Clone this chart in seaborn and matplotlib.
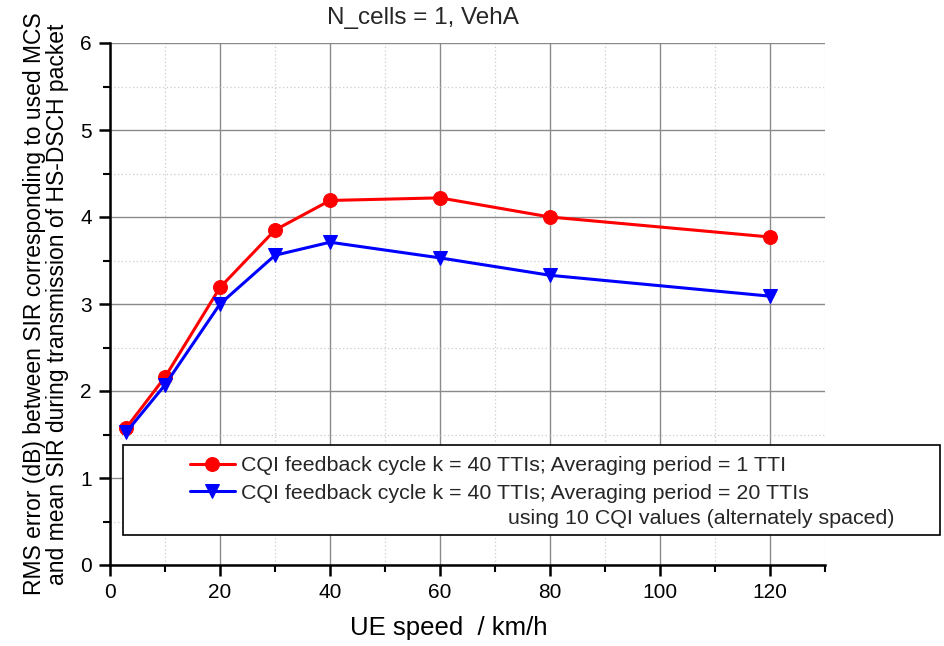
import matplotlib
matplotlib.use("Agg")
import matplotlib.pyplot as plt
import matplotlib.patches as mpatches
from matplotlib.ticker import MultipleLocator
import seaborn as sns
import pandas as pd

speed = [3, 10, 20, 30, 40, 60, 80, 120]
rms_avg1 = [1.58, 2.16, 3.19, 3.85, 4.19, 4.22, 4.00, 3.77]
rms_avg20 = [1.53, 2.07, 3.00, 3.56, 3.71, 3.53, 3.33, 3.09]
label1 = "CQI feedback cycle k = 40 TTIs; Averaging period = 1 TTI"
label2 = "CQI feedback cycle k = 40 TTIs; Averaging period = 20 TTIs"
label3 = "using 10 CQI values (alternately spaced)"
title = "N_cells = 1, VehA"
xlabel = "UE speed  / km/h"
ylabel = "RMS error (dB) between SIR corresponding to used MCS\nand mean SIR during transmission of HS-DSCH packet"

sns.set_style("ticks")
plt.rcParams['font.family'] = ['Liberation Sans', 'DejaVu Sans']

fig = plt.figure(figsize=(9.45, 6.46), dpi=100)
ax = fig.add_axes([110/945, 1-565/646, (825-110)/945, (565-43)/646])

df1 = pd.DataFrame({"x": speed, "y": rms_avg1})
df2 = pd.DataFrame({"x": speed, "y": rms_avg20})
sns.lineplot(data=df1, x="x", y="y", ax=ax, color="#ff0000", lw=2.2,
             marker="o", markersize=10, markeredgecolor="#ff0000", label=label1, zorder=3)
sns.lineplot(data=df2, x="x", y="y", ax=ax, color="#0000ff", lw=2.2,
             marker="v", markersize=10, markeredgecolor="#0000ff", label=label2, zorder=4)
handles, labels = ax.get_legend_handles_labels()
ax.get_legend().remove()

ax.set_xlim(0, 130)
ax.set_ylim(0, 6)
ax.xaxis.set_major_locator(MultipleLocator(20))
ax.xaxis.set_minor_locator(MultipleLocator(10))
ax.yaxis.set_major_locator(MultipleLocator(1))
ax.yaxis.set_minor_locator(MultipleLocator(0.5))
ax.grid(which="major", color="#8a8a8a", lw=1.0, ls="-")
ax.grid(which="minor", color="#cccccc", lw=0.9, ls=(0, (1, 2)))
ax.set_axisbelow(True)
for s in ["top", "right"]:
    ax.spines[s].set_visible(False)
for s in ["left", "bottom"]:
    ax.spines[s].set_linewidth(1.8)
    ax.spines[s].set_color("black")
ax.tick_params(which="major", direction="out", length=8, width=1.8, labelsize=15,
               pad=5, colors="black")
ax.tick_params(which="minor", direction="out", length=5, width=1.5, colors="black")

ax.set_xlabel(xlabel, fontsize=18.5, color="black")
ax.xaxis.set_label_coords((449-110)/(825-110), -(628-565)/(565-43))
ax.xaxis.label.set_va("center")
ax.set_ylabel(ylabel, fontsize=16.5, labelpad=8, linespacing=1.0, color="black")
fig.text(423/945, 1-18/646, title, fontsize=17.5, ha="center", va="center")

# legend frame
rect = mpatches.Rectangle((123/945, 1-535/646), (940-123)/945, (535-445)/646,
                          transform=fig.transFigure, facecolor="white",
                          edgecolor="black", lw=1.2, zorder=4)
fig.patches.append(rect)
leg = fig.legend(handles, labels, loc="upper left", bbox_to_anchor=(190/945, 1-456/646),
                 frameon=False, fontsize=15.4,
                 handlelength=2.1, handletextpad=0.3, labelspacing=0.42,
                 borderpad=0.0, borderaxespad=0.0)
leg.set_zorder(6)
fig.text(895/945, 1-518/646, label3, fontsize=15.4, ha="right", va="center", zorder=7)

fig.savefig("out.png", dpi=100)
